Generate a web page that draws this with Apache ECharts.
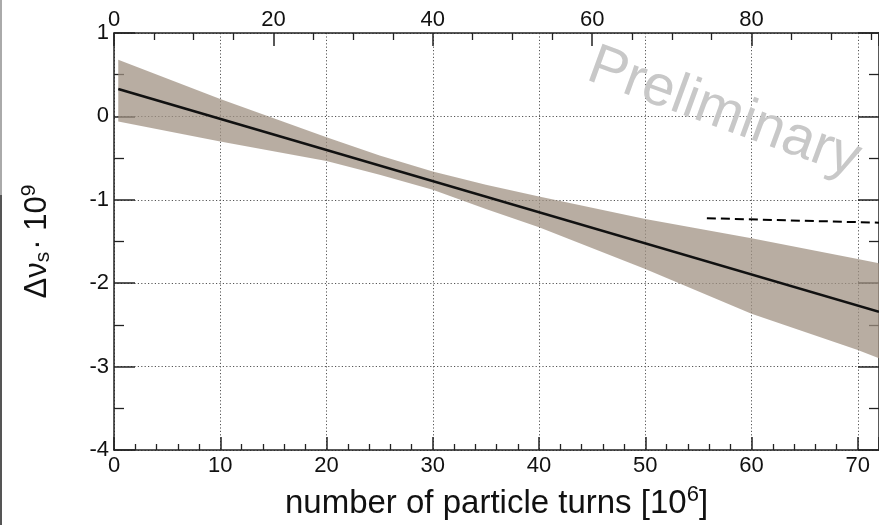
<!DOCTYPE html>
<html>
<head>
<meta charset="utf-8">
<script src="https://cdn.jsdelivr.net/npm/echarts@6/dist/echarts.min.js"></script>
<style>
  html, body { margin: 0; padding: 0; background: #fff; }
  #chart { width: 879px; height: 525px; }
</style>
</head>
<body>
<div id="chart"></div>
<script>
// Linear fit of the synchrotron tune drift versus turn number
const fitX = [0.4, 72];
const fitY = [0.33, -2.343];

// Confidence band of the fit (upper / lower edge)
const bandX     = [0.4, 10, 20, 25, 30, 35, 40, 50, 60, 70, 72];
const bandUpper = [0.68, 0.21, -0.25, -0.47, -0.66, -0.82, -0.96, -1.23, -1.46, -1.71, -1.76];
const bandLower = [-0.06, -0.30, -0.535, -0.70, -0.88, -1.11, -1.33, -1.83, -2.365, -2.80, -2.90];

// Reference level (dashed)
const refX = [55.8, 72];
const refY = [-1.22, -1.275];

// Axis ranges
const turnsRange = [0, 72];   // number of particle turns [10^6]
const topRange   = [0, 96];   // secondary scale on top
const yRange     = [-4, 1];

const FONT = 'Liberation Sans, Arial, Helvetica, sans-serif';
const AXIS_COLOR = '#222';
const TEXT_COLOR = '#111';
const gridDots = { color: '#555', width: 1, type: [1.2, 2.2] };

const chart = echarts.init(document.getElementById('chart'), null, { renderer: 'canvas' });

const toPairs = (xs, ys) => xs.map((x, i) => [x, ys[i]]);

chart.setOption({
  animation: false,
  backgroundColor: '#fff',
  grid: { left: 114, right: -8, top: 33, bottom: 73, containLabel: false },
  xAxis: [
    {
      type: 'value', position: 'bottom',
      min: turnsRange[0], max: turnsRange[1], interval: 10,
      axisLine: { onZero: false, lineStyle: { color: AXIS_COLOR, width: 1.5 } },
      axisTick: { inside: true, length: 13, lineStyle: { color: AXIS_COLOR, width: 1.5 } },
      minorTick: { show: true, splitNumber: 5, length: 6, lineStyle: { color: AXIS_COLOR, width: 1.3 } },
      axisLabel: { fontSize: 22, fontFamily: FONT, color: TEXT_COLOR, margin: 5, showMaxLabel: false },
      splitLine: { show: true, lineStyle: gridDots },
      name: '{a|number of particle turns [10}{s|6}{a|]}',
      nameLocation: 'middle', nameGap: 34,
      nameTextStyle: {
        rich: {
          a: { fontSize: 33, fontFamily: FONT, color: TEXT_COLOR },
          s: { fontSize: 22, fontFamily: FONT, color: TEXT_COLOR, padding: [0, 0, 17, 0] }
        }
      }
    },
    {
      type: 'value', position: 'top',
      min: topRange[0], max: topRange[1], interval: 20,
      axisLine: { onZero: false, lineStyle: { color: AXIS_COLOR, width: 1.5 } },
      axisTick: { inside: true, length: 13, lineStyle: { color: AXIS_COLOR, width: 1.5 } },
      minorTick: { show: true, splitNumber: 4, length: 7, lineStyle: { color: AXIS_COLOR, width: 1.3 } },
      axisLabel: { fontSize: 22, fontFamily: FONT, color: TEXT_COLOR, margin: 2, showMaxLabel: false },
      splitLine: { show: false }
    }
  ],
  yAxis: [
    {
      type: 'value', position: 'left',
      min: yRange[0], max: yRange[1], interval: 1,
      axisLine: { show: true, onZero: false, lineStyle: { color: AXIS_COLOR, width: 1.5 } },
      axisTick: { show: true, inside: true, length: 21, lineStyle: { color: AXIS_COLOR, width: 1.5 } },
      minorTick: { show: true, splitNumber: 2, length: 10, lineStyle: { color: AXIS_COLOR, width: 1.3 } },
      axisLabel: { fontSize: 22, fontFamily: FONT, color: TEXT_COLOR, margin: 5 },
      splitLine: { show: true, lineStyle: gridDots },
      name: '{a|Δν}{b|s}{a|· 10}{s|9}',
      nameLocation: 'middle', nameGap: 58,
      nameTextStyle: {
        rich: {
          a: { fontSize: 31, fontFamily: FONT, color: TEXT_COLOR },
          b: { fontSize: 21, fontFamily: FONT, color: TEXT_COLOR, padding: [12, 2, 0, 0] },
          s: { fontSize: 21, fontFamily: FONT, color: TEXT_COLOR, padding: [0, 0, 16, 0] }
        }
      }
    },
    {
      type: 'value', position: 'right',
      min: yRange[0], max: yRange[1], interval: 1,
      axisLine: { show: true, onZero: false, lineStyle: { color: AXIS_COLOR, width: 1.5 } },
      axisTick: { show: true, inside: true, length: 21, lineStyle: { color: AXIS_COLOR, width: 1.5 } },
      minorTick: { show: true, splitNumber: 2, length: 10, lineStyle: { color: AXIS_COLOR, width: 1.3 } },
      axisLabel: { show: false },
      splitLine: { show: false }
    }
  ],
  series: [
    {
      name: 'band',
      type: 'custom',
      xAxisIndex: 0, yAxisIndex: 0,
      clip: true,
      silent: true,
      z: 2,
      data: [[bandX[0], bandUpper[0]]],
      renderItem: function (params, api) {
        const pts = [];
        for (let i = 0; i < bandX.length; i++) pts.push(api.coord([bandX[i], bandUpper[i]]));
        for (let i = bandX.length - 1; i >= 0; i--) pts.push(api.coord([bandX[i], bandLower[i]]));
        return {
          type: 'polygon',
          shape: { points: pts },
          style: { fill: 'rgba(159,144,130,0.74)', stroke: null }
        };
      }
    },
    {
      name: 'fit',
      type: 'line',
      xAxisIndex: 0, yAxisIndex: 0,
      data: toPairs(fitX, fitY),
      symbol: 'none',
      z: 4,
      lineStyle: { color: '#111', width: 2.6 }
    },
    {
      name: 'reference',
      type: 'line',
      xAxisIndex: 0, yAxisIndex: 0,
      data: toPairs(refX, refY),
      symbol: 'none',
      z: 4,
      lineStyle: { color: '#000', width: 2, type: [9, 5] }
    }
  ],
  graphic: [
    {
      type: 'text',
      x: 724, y: 113,
      rotation: -20 * Math.PI / 180,
      z: 10,
      style: {
        text: 'Preliminary',
        fontSize: 57,
        fontFamily: FONT,
        fill: '#c8c8c8',
        align: 'center',
        verticalAlign: 'middle'
      }
    },
    { type: 'rect', shape: { x: 0, y: 0, width: 2, height: 195 }, style: { fill: '#aaa' } },
    { type: 'rect', shape: { x: 0, y: 195, width: 2, height: 330 }, style: { fill: '#555' } }
  ]
});
</script>
</body>
</html>
